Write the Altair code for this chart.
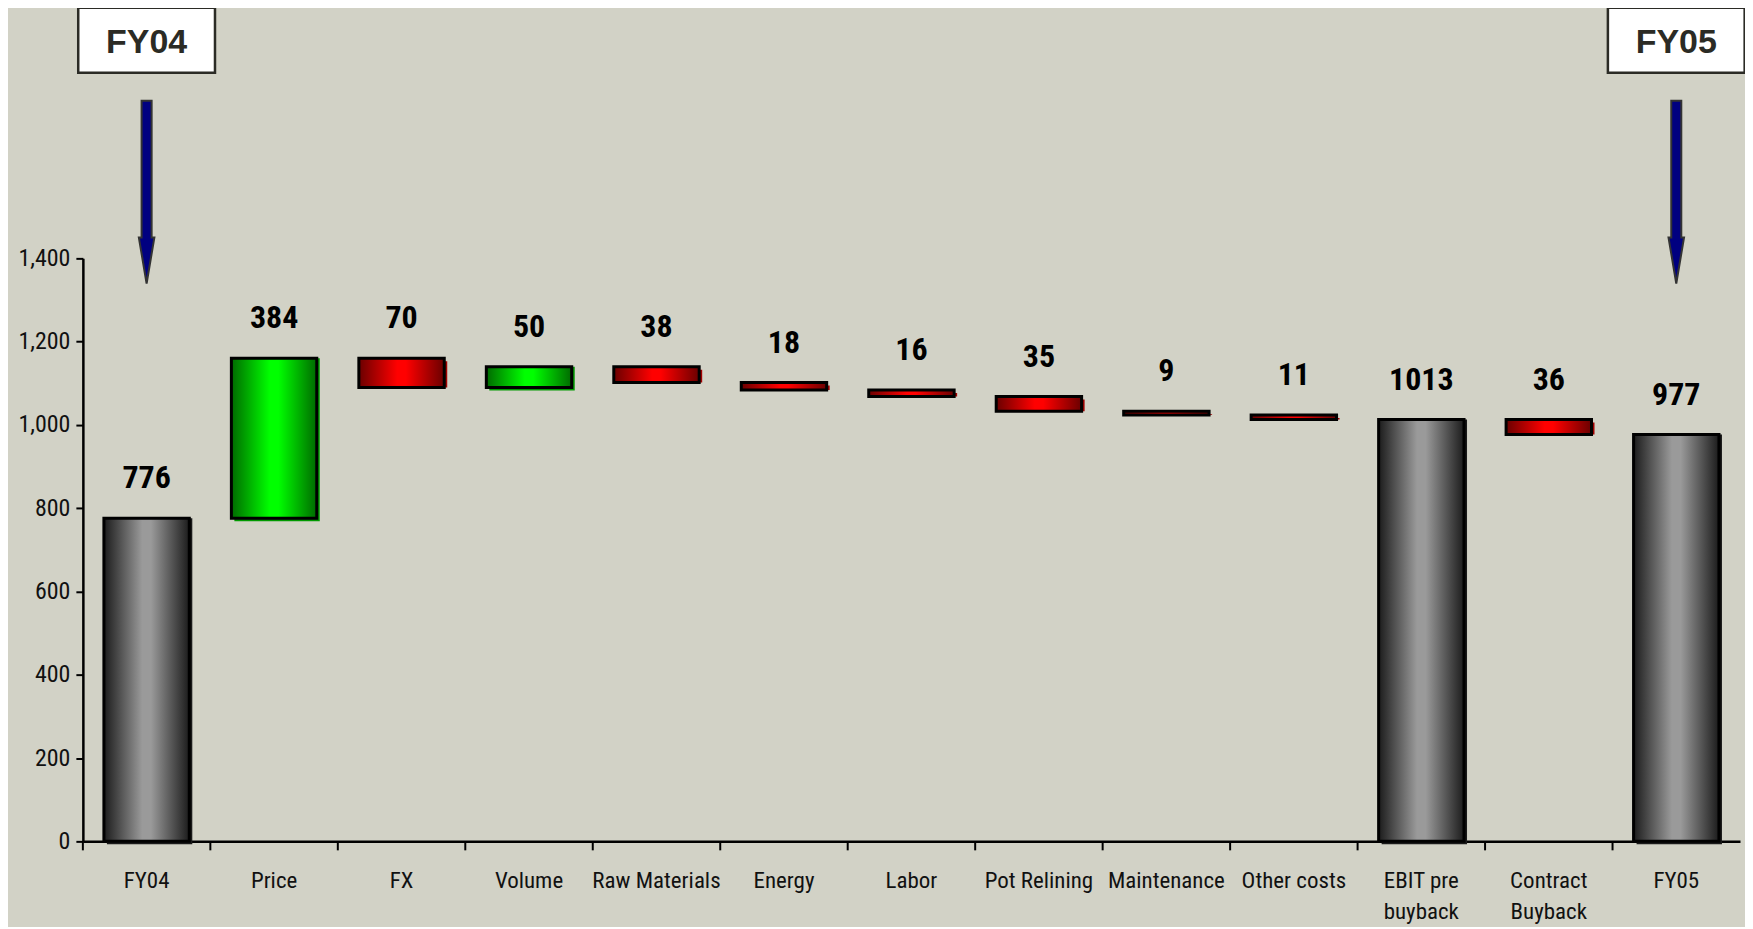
import altair as alt
import pandas as pd

# ---- data ----
categories = ["FY04", "Price", "FX", "Volume", "Raw Materials", "Energy", "Labor",
              "Pot Relining", "Maintenance", "Other costs", "EBIT pre buyback",
              "Contract Buyback", "FY05"]
amounts = [776, 384, -70, 50, -38, -18, -16, -35, -9, -11, 1013, -36, 977]
kinds = ["total", "inc", "dec", "inc", "dec", "dec", "dec", "dec", "dec", "dec",
         "total", "dec", "total"]
value_labels = ["776", "384", "70", "50", "38", "18", "16", "35", "9", "11",
                "1013", "36", "977"]
y_ticks = [0, 200, 400, 600, 800, 1000, 1200, 1400]
markers = ["FY04", "FY05"]

# ---- waterfall table ----
rows = []
running = 0
for c, a, k, l in zip(categories, amounts, kinds, value_labels):
    if k == "total":
        start, end = 0, a
    else:
        start, end = running, running + a
    running = end
    rows.append(dict(cat=c, start=start, end=end, top=max(start, end), kind=k, label=l))
df = pd.DataFrame(rows)
ann = pd.DataFrame({"cat": markers, "text": markers})

NARROW = "Liberation Sans Narrow, Arial Narrow, Roboto Condensed, DejaVu Sans Condensed, sans-serif"
BG = "#d2d2c6"


def grad(edge, mid):
    return alt.Gradient(
        gradient="linear",
        stops=[alt.GradientStop(color=edge, offset=0),
               alt.GradientStop(color=mid, offset=0.45),
               alt.GradientStop(color=mid, offset=0.55),
               alt.GradientStop(color=edge, offset=1)],
        x1=0, x2=1, y1=0, y2=0)


x_enc = alt.X("cat:N", sort=categories,
              scale=alt.Scale(paddingInner=0, paddingOuter=0),
              axis=alt.Axis(title=None, ticks=False, domainColor="black", domainWidth=2.5,
                            labelFont=NARROW, labelFontSize=23, labelColor="#111",
                            labelPadding=28, labelAngle=0, labelLineHeight=31,
                            labelBaseline="top", labelOverlap=False, labelLimit=0,
                            labelExpr="datum.value == 'EBIT pre buyback' ? ['EBIT pre', 'buyback'] : "
                                      "datum.value == 'Contract Buyback' ? ['Contract', 'Buyback'] : datum.value"))
y_enc = alt.Y("start:Q", scale=alt.Scale(domain=[0, 1400], nice=False),
              axis=alt.Axis(title=None, values=y_ticks, format=",d", grid=False,
                            tickSize=7, tickWidth=2, tickColor="black",
                            domainColor="black", domainWidth=2.5,
                            labelFont=NARROW, labelFontSize=24, labelColor="#111",
                            labelPadding=6))

base = alt.Chart(df).encode(x=x_enc, y=y_enc, y2="end:Q")

layers = []
shadow_cols = {"total": "#1a1a1a", "inc": "#009a00", "dec": "#a00000"}
fills = {"total": grad("#1c1c1c", "#9a9a9a"),
         "inc": grad("#006a00", "#00ff00"),
         "dec": grad("#6a0000", "#ff0000")}
for k in ["total", "inc", "dec"]:
    layers.append(base.transform_filter(alt.datum.kind == k).mark_bar(
        width=alt.RelativeBandSize(0.67), color=shadow_cols[k], xOffset=3, yOffset=3))
for k in ["total", "inc", "dec"]:
    layers.append(base.transform_filter(alt.datum.kind == k).mark_bar(
        width=alt.RelativeBandSize(0.67), color=fills[k], stroke="black", strokeWidth=3))

labels = alt.Chart(df).mark_text(
    font=NARROW, fontSize=32, fontWeight="bold", color="black", baseline="middle", dy=-40
).encode(x=alt.X("cat:N", sort=categories), y=alt.Y("top:Q"), text="label:N")
layers.append(labels)

ticks = alt.Chart(df).mark_rule(color="black", strokeWidth=2).encode(
    x=alt.X("cat:N", sort=categories, bandPosition=0),
    y=alt.value(584), y2=alt.value(593))
layers.append(ticks)

# ---- FY04 / FY05 call-outs above the plot ----
box = alt.Chart(ann).mark_bar(size=137, fill="white", stroke="#2b2b25", strokeWidth=2.5).encode(
    x=alt.X("cat:N", sort=categories), y=alt.datum(1846), y2=alt.datum(2002))
box_text = alt.Chart(ann).mark_text(
    font="Liberation Sans, Arial, sans-serif", fontSize=34, fontWeight="bold",
    color="#2b2b25", baseline="middle", dy=3
).encode(x=alt.X("cat:N", sort=categories), y=alt.datum(1924), text="text:N")
arrow_path = ("M-0.055,-1 L0.055,-1 L0.055,0.497 L0.085,0.497 L0,1 "
              "L-0.085,0.497 L-0.055,0.497 Z")
arrow = alt.Chart(ann).mark_point(
    shape=arrow_path, size=33489, filled=True, fill="#000080", stroke="#333333",
    strokeWidth=2, opacity=1
).encode(x=alt.X("cat:N", sort=categories), y=alt.datum(1559))
layers += [box, box_text, arrow]

chart = alt.layer(*layers).properties(
    width=1660, height=584, autosize="none",
    padding={"left": 75, "top": 250, "right": 5, "bottom": 85},
    background=BG,
).configure_view(stroke=None)

chart.save("out.html", embed_options={"renderer": "svg", "actions": False})
